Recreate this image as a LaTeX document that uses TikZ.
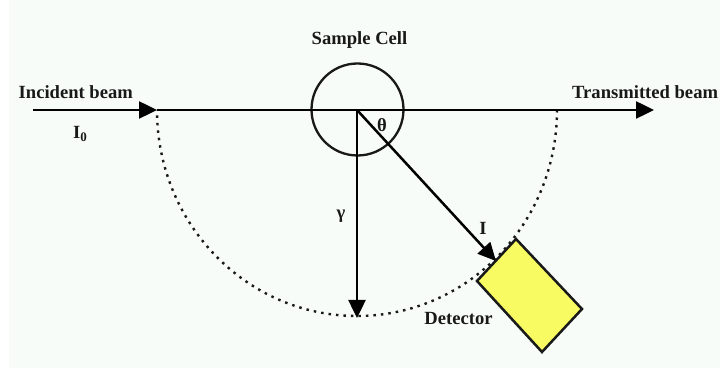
\documentclass[tikz,border=0pt]{standalone}
\usepackage{fontspec}
\setmainfont{Liberation Serif}
\usetikzlibrary{arrows.meta}
\definecolor{detyellow}{HTML}{F9FB62}
\definecolor{paper}{HTML}{F7FCF9}
\tikzset{
  beam/.style={line width=2.5pt,-{Triangle[length=18pt,width=17pt]}},
  lbl/.style={font=\bfseries\fontsize{18.6}{20}\selectfont,inner sep=0pt,text=black!90},
  cellring/.style={circle,draw=black!90,line width=2.3pt,minimum size=92pt,inner sep=0pt},
  detbox/.style={draw=black!90,line width=2.5pt,fill=detyellow,line join=miter},
  scan/.style={line width=2.4pt,black!90,dash pattern=on 2.5pt off 5pt}
}
\begin{document}
\begin{tikzpicture}[x=1pt,y=-1pt]
\useasboundingbox (0,0) rectangle (720,371);
\fill[white] (0,0) rectangle (720,371);
\fill[paper] (9,0) rectangle (720,368);
\coordinate (start) at (33,110);
\coordinate (inc) at (157,110);
\coordinate (trans) at (654,110);
\coordinate (centre) at (357,110);
\coordinate (foot) at (357,318);
\coordinate (det) at (496,261);
\draw[scan] (557,110) arc[start angle=0,end angle=-180,x radius=200pt,y radius=206pt];
\node[cellring] (cell) at (357.5,109.5) {};
\draw[beam] (start) -- (inc);
\draw[beam] (inc) -- (trans);
\draw[beam] (centre) -- (foot);
\draw[beam] (centre) -- (det);
\draw[detbox] (516,239) coordinate (d1) -- (582,309) coordinate (d2) -- (542,352) coordinate (d3) -- (477,281) coordinate (d4) -- cycle;
\node[lbl,anchor=base west] (tinc) at (18.5,99) {Incident beam};
\node[lbl,anchor=base west] (ttrans) at (572,99) {Transmitted beam};
\node[lbl,anchor=base] (tcell) at (359.5,45) {Sample Cell};
\node[lbl,anchor=base west] (tio) at (73,139) {I\raisebox{-3pt}{\fontsize{13}{13}\selectfont 0}};
\node[lbl,anchor=base] (tgamma) at (341,219) {\char"03B3};
\node[lbl,anchor=base] (ttheta) at (382,132) {\char"03B8};
\node[lbl,anchor=base] (ti) at (483,235) {I};
\node[lbl,anchor=base] (tdet) at (458.5,324) {Detector};
\end{tikzpicture}
\end{document}
